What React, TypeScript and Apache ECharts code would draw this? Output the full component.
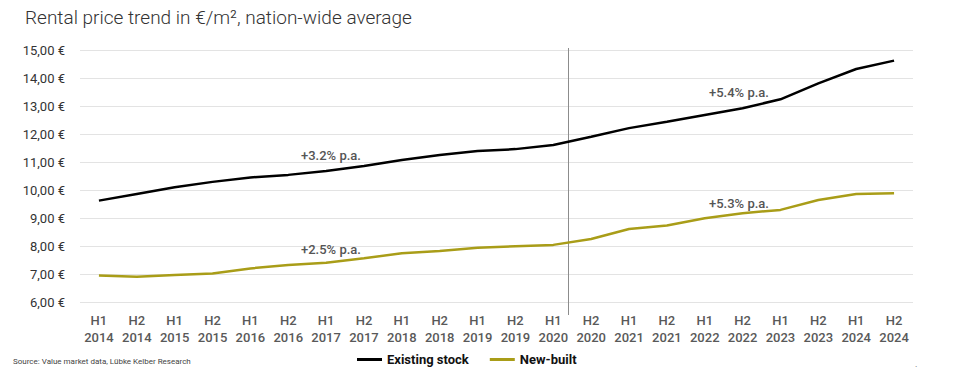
import React, { useEffect, useRef } from "react";
import * as echarts from "echarts";

const categories = [
  "H1\n2014", "H2\n2014", "H1\n2015", "H2\n2015", "H1\n2016", "H2\n2016",
  "H1\n2017", "H2\n2017", "H1\n2018", "H2\n2018", "H1\n2019", "H2\n2019",
  "H1\n2020", "H2\n2020", "H1\n2021", "H2\n2021", "H1\n2022", "H2\n2022",
  "H1\n2023", "H2\n2023", "H1\n2024", "H2\n2024",
];

const existingStock = [
  9.62, 9.86, 10.1, 10.29, 10.45, 10.54, 10.68, 10.86, 11.07, 11.25, 11.39, 11.46,
  11.61, 11.9, 12.21, 12.44, 12.68, 12.92, 13.24, 13.81, 14.32, 14.62,
];

const newBuilt = [
  6.95, 6.9, 6.96, 7.02, 7.2, 7.32, 7.4, 7.56, 7.74, 7.82, 7.94, 7.99,
  8.04, 8.25, 8.61, 8.73, 8.99, 9.17, 9.29, 9.64, 9.86, 9.88,
];

const annotations = [
  { text: "+3.2% p.a.", x: 301, y: 155 },
  { text: "+2.5% p.a.", x: 301, y: 249 },
  { text: "+5.4% p.a.", x: 709, y: 92 },
  { text: "+5.3% p.a.", x: 709, y: 203 },
];

const FONT = "Roboto, 'Noto Sans', sans-serif";
const BLACK = "#000000";
const GOLD = "#a99d18";

export default function App() {
  const ref = useRef<HTMLDivElement>(null);

  useEffect(() => {
    if (!ref.current) return;
    document.body.style.margin = "0";
    const chart = echarts.init(ref.current, undefined, { renderer: "svg" });
    const option: any = {
      animation: false,
      textStyle: { fontFamily: FONT },
      title: {
        text: "Rental price trend in €/m², nation-wide average",
        left: 20,
        top: 3,
        textStyle: { fontFamily: FONT, fontSize: 19, fontWeight: 300, color: "#333" },
      },
      grid: { left: 80, right: 47, top: 50, bottom: 74, containLabel: false },
      xAxis: {
        type: "category",
        data: categories,
        boundaryGap: true,
        axisLine: { show: false },
        axisTick: { show: false },
        axisLabel: {
          interval: 0,
          margin: 10,
          fontFamily: FONT,
          fontSize: 13,
          fontWeight: 500,
          color: "#595959",
          lineHeight: 17,
        },
      },
      yAxis: {
        type: "value",
        min: 6,
        max: 15,
        interval: 1,
        axisLine: { show: false },
        axisTick: { show: false },
        splitLine: { lineStyle: { color: "#e3e3e3", width: 1 } },
        axisLabel: {
          margin: 15,
          fontFamily: FONT,
          fontSize: 13,
          color: "#333",
          formatter: (v: number) => v.toFixed(2).replace(".", ",") + " €",
        },
      },
      legend: {
        left: 352,
        top: 348,
        itemWidth: 25,
        itemHeight: 3,
        itemGap: 21,
        icon: "rect",
        textStyle: { fontFamily: FONT, fontSize: 13, fontWeight: "bold", color: "#111" },
        data: ["Existing stock", "New-built"],
      },
      series: [
        {
          name: "Existing stock",
          type: "line",
          data: existingStock,
          showSymbol: false,
          symbol: "none",
          lineStyle: { color: BLACK, width: 2.5 },
          itemStyle: { color: BLACK },
        },
        {
          name: "New-built",
          type: "line",
          data: newBuilt,
          showSymbol: false,
          symbol: "none",
          lineStyle: { color: GOLD, width: 2.5 },
          itemStyle: { color: GOLD },
        },
      ],
    };
    chart.setOption(option);

    const p12 = chart.convertToPixel({ xAxisIndex: 0 }, 12) as number;
    const p13 = chart.convertToPixel({ xAxisIndex: 0 }, 13) as number;
    const yTop = chart.convertToPixel({ yAxisIndex: 0 }, 15) as number;
    const yBottom = chart.convertToPixel({ yAxisIndex: 0 }, 6) as number;
    const vx = Math.round((p12 + p13) / 2 - 4) + 0.5;

    chart.setOption({
      graphic: [
        {
          type: "line",
          shape: { x1: vx, y1: yTop - 2, x2: vx, y2: yBottom + 13 },
          style: { stroke: "#8c8c8c", lineWidth: 1 },
          z: 1,
        },
        ...annotations.map((a) => ({
          type: "text",
          x: a.x,
          y: a.y,
          style: {
            text: a.text,
            fontFamily: FONT,
            fontSize: 13,
            fontWeight: 500,
            fill: "#555",
            verticalAlign: "middle",
          },
          z: 10,
        })),
        {
          type: "text",
          x: 13,
          y: 361,
          style: {
            text: "Source: Value market data, Lübke Kelber Research",
            fontFamily: FONT,
            fontSize: 8,
            fill: "#444",
            verticalAlign: "middle",
          },
        },
        {
          type: "text",
          x: 915,
          y: 364,
          style: { text: ".", fontFamily: FONT, fontSize: 9, fill: "#666", verticalAlign: "middle" },
        },
      ],
    });

    return () => chart.dispose();
  }, []);

  return <div ref={ref} style={{ width: 960, height: 376 }} />;
}
